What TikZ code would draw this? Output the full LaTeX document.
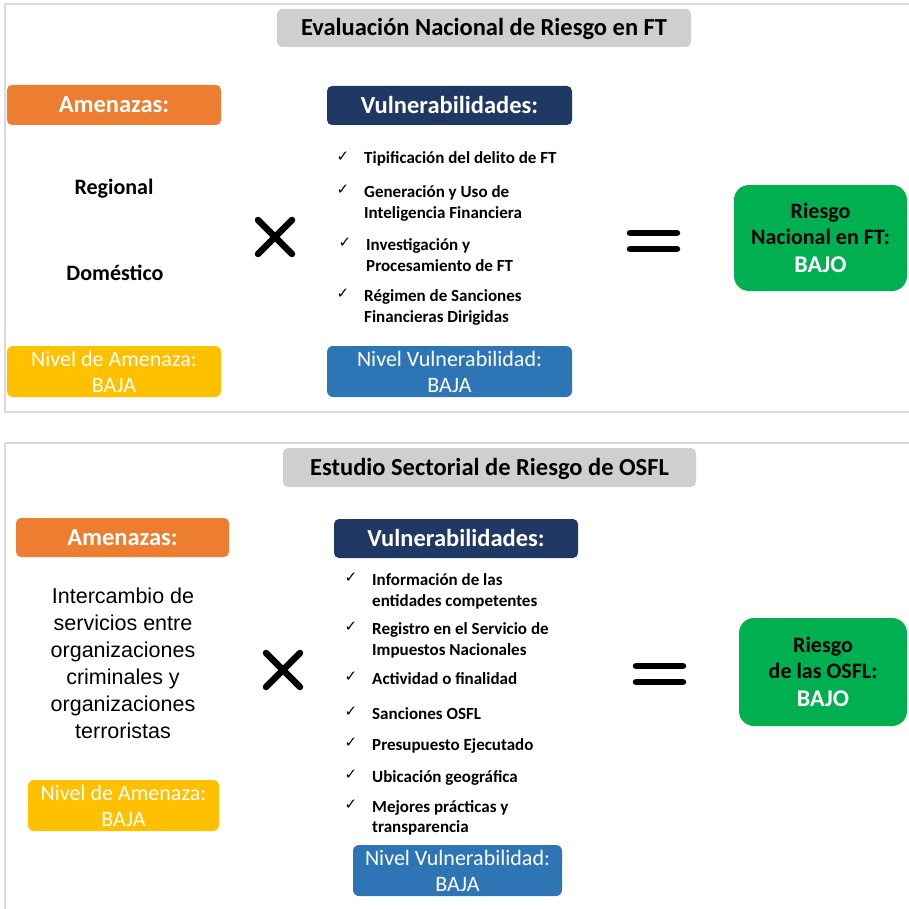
\documentclass[tikz,border=0pt]{standalone}
\usepackage{fontspec}
\setmainfont{Carlito}
\newfontfamily\myarial{Liberation Sans}
\newfontfamily\mysym{DejaVu Sans}
\definecolor{cOrange}{HTML}{ED7D31}
\definecolor{cNavy}{HTML}{203864}
\definecolor{cGray}{HTML}{D0CECE}
\definecolor{cYellow}{HTML}{FFC000}
\definecolor{cBlue}{HTML}{2E75B6}
\definecolor{cGreen}{HTML}{00B050}
\definecolor{cFrame}{HTML}{DADADA}
\newcommand\myhdfont{\bfseries\fontsize{24.5}{28}\selectfont}
\newcommand\myitemfont{\bfseries\fontsize{17}{21}\selectfont}
\newcommand\mynvfont{\fontsize{22}{26}\selectfont}
\newcommand\mygrfont{\bfseries\fontsize{22}{26}\selectfont}
\tikzset{
  frame/.style={draw=cFrame, line width=1.3pt},
  hbox/.style={rounded corners=5pt, inner sep=0pt, text=white, font=\myhdfont, text height=15.8pt, text depth=0pt},
  tbox/.style={hbox, fill=cGray, text=black},
  nbox/.style={rounded corners=6pt, inner sep=0pt, text=white, font=\mynvfont, align=center},
  gbox/.style={rounded corners=15pt, fill=cGreen, inner sep=0pt, font=\mygrfont, align=center, text=black},
  itemtext/.style={anchor=west, inner sep=0pt, font=\myitemfont, text height=12pt, text depth=1pt},
  chk/.style={inner sep=0pt, font=\mysym\fontsize{15}{15}\selectfont},
  lbl/.style={inner sep=0pt, font=\bfseries\fontsize{22}{26}\selectfont},
  sym/.style={line width=6.5pt, line cap=round},
}
\begin{document}
\begin{tikzpicture}[x=1pt,y=-1pt]
\useasboundingbox (0,0) rectangle (908,909);
% frames
\draw[frame] (5,4) -- (913,4);
\draw[frame] (5,4) -- (5,412) -- (913,412);
\draw[frame] (5,443) -- (913,443);
\draw[frame] (5,443) -- (5,915);

% ---------- top section ----------
\node[tbox, minimum width=414pt, minimum height=38pt] (title1) at (484,28) {Evaluación Nacional de Riesgo en FT};
\node[hbox, fill=cOrange, minimum width=214pt, minimum height=40pt] (amen1) at (114,105) {Amenazas:};
\node[hbox, fill=cNavy, minimum width=245pt, minimum height=39pt] (vul1) at (449.5,105.5) {Vulnerabilidades:};

\node[lbl] (reg) at (114,189) {Regional};
\node[lbl] (dom) at (115,273) {Doméstico};

\draw[sym] (258,220) -- (292,254);
\draw[sym] (258,254) -- (292,220);

\node[chk] (c11) at (343,157) {✓};
\node[itemtext] (t11) at (364,158) {Tipificación del delito de FT};
\node[chk] (c12) at (343,190) {✓};
\node[itemtext] (t12a) at (364,192) {Generación y Uso de};
\node[itemtext] (t12b) at (364,213) {Inteligencia Financiera};
\node[chk] (c13) at (345,243) {✓};
\node[itemtext] (t13a) at (366,245) {Investigación y};
\node[itemtext] (t13b) at (366,266) {Procesamiento de FT};
\node[chk] (c14) at (343,294) {✓};
\node[itemtext] (t14a) at (364,296) {Régimen de Sanciones};
\node[itemtext] (t14b) at (364,317) {Financieras Dirigidas};

\draw[sym] (630,233) -- (677,233);
\draw[sym] (630,249) -- (677,249);

\node[gbox, minimum width=173pt, minimum height=106pt] (green1) at (820.5,238) {Riesgo\\Nacional en FT:\\[2pt]\textcolor{white}{\fontsize{24}{26}\selectfont BAJO}};

\node[nbox, fill=cYellow, minimum width=214pt, minimum height=51pt] (niva1) at (114,371.5) {Nivel de Amenaza:\\BAJA};
\node[nbox, fill=cBlue, minimum width=245pt, minimum height=51pt] (nivv1) at (449.5,371.5) {Nivel Vulnerabilidad:\\BAJA};

% ---------- bottom section ----------
\node[tbox, minimum width=413pt, minimum height=39pt] (title2) at (489.5,467.5) {Estudio Sectorial de Riesgo de OSFL};
\node[hbox, fill=cOrange, minimum width=213pt, minimum height=39pt] (amen2) at (122.5,537.5) {Amenazas:};
\node[hbox, fill=cNavy, minimum width=244pt, minimum height=39pt] (vul2) at (456,538.5) {Vulnerabilidades:};

\node[inner sep=0pt, align=center, font=\myarial\fontsize{21.5}{27}\selectfont] (inter) at (123,663.5)
  {Intercambio de\\servicios entre\\organizaciones\\criminales y\\organizaciones\\terroristas};

\draw[sym] (266,653) -- (300,687);
\draw[sym] (266,687) -- (300,653);

\node[chk] (c21) at (351,578) {✓};
\node[itemtext] (t21a) at (372,580) {Información de las};
\node[itemtext] (t21b) at (372,601) {entidades competentes};
\node[chk] (c22) at (351,627) {✓};
\node[itemtext] (t22a) at (372,629) {Registro en el Servicio de};
\node[itemtext] (t22b) at (372,650) {Impuestos Nacionales};
\node[chk] (c23) at (351,677) {✓};
\node[itemtext] (t23) at (372,679) {Actividad o finalidad};
\node[chk] (c24) at (351,712) {✓};
\node[itemtext] (t24) at (372,714) {Sanciones OSFL};
\node[chk] (c25) at (351,743) {✓};
\node[itemtext] (t25) at (372,745) {Presupuesto Ejecutado};
\node[chk] (c26) at (351,775) {✓};
\node[itemtext] (t26) at (372,777) {Ubicación geográfica};
\node[chk] (c27) at (351,805) {✓};
\node[itemtext] (t27a) at (372,807) {Mejores prácticas y};
\node[itemtext] (t27b) at (372,827) {transparencia};

\draw[sym] (636,666) -- (683,666);
\draw[sym] (636,682) -- (683,682);

\node[gbox, minimum width=168pt, minimum height=108pt] (green2) at (823,672) {Riesgo\\de las OSFL:\\[2pt]\textcolor{white}{\fontsize{24}{26}\selectfont BAJO}};

\node[nbox, fill=cYellow, minimum width=191pt, minimum height=51pt] (niva2) at (123.5,805.5) {Nivel de Amenaza:\\BAJA};
\node[nbox, fill=cBlue, minimum width=209pt, minimum height=51pt] (nivv2) at (457.5,870.5) {Nivel Vulnerabilidad:\\BAJA};
\end{tikzpicture}
\end{document}
